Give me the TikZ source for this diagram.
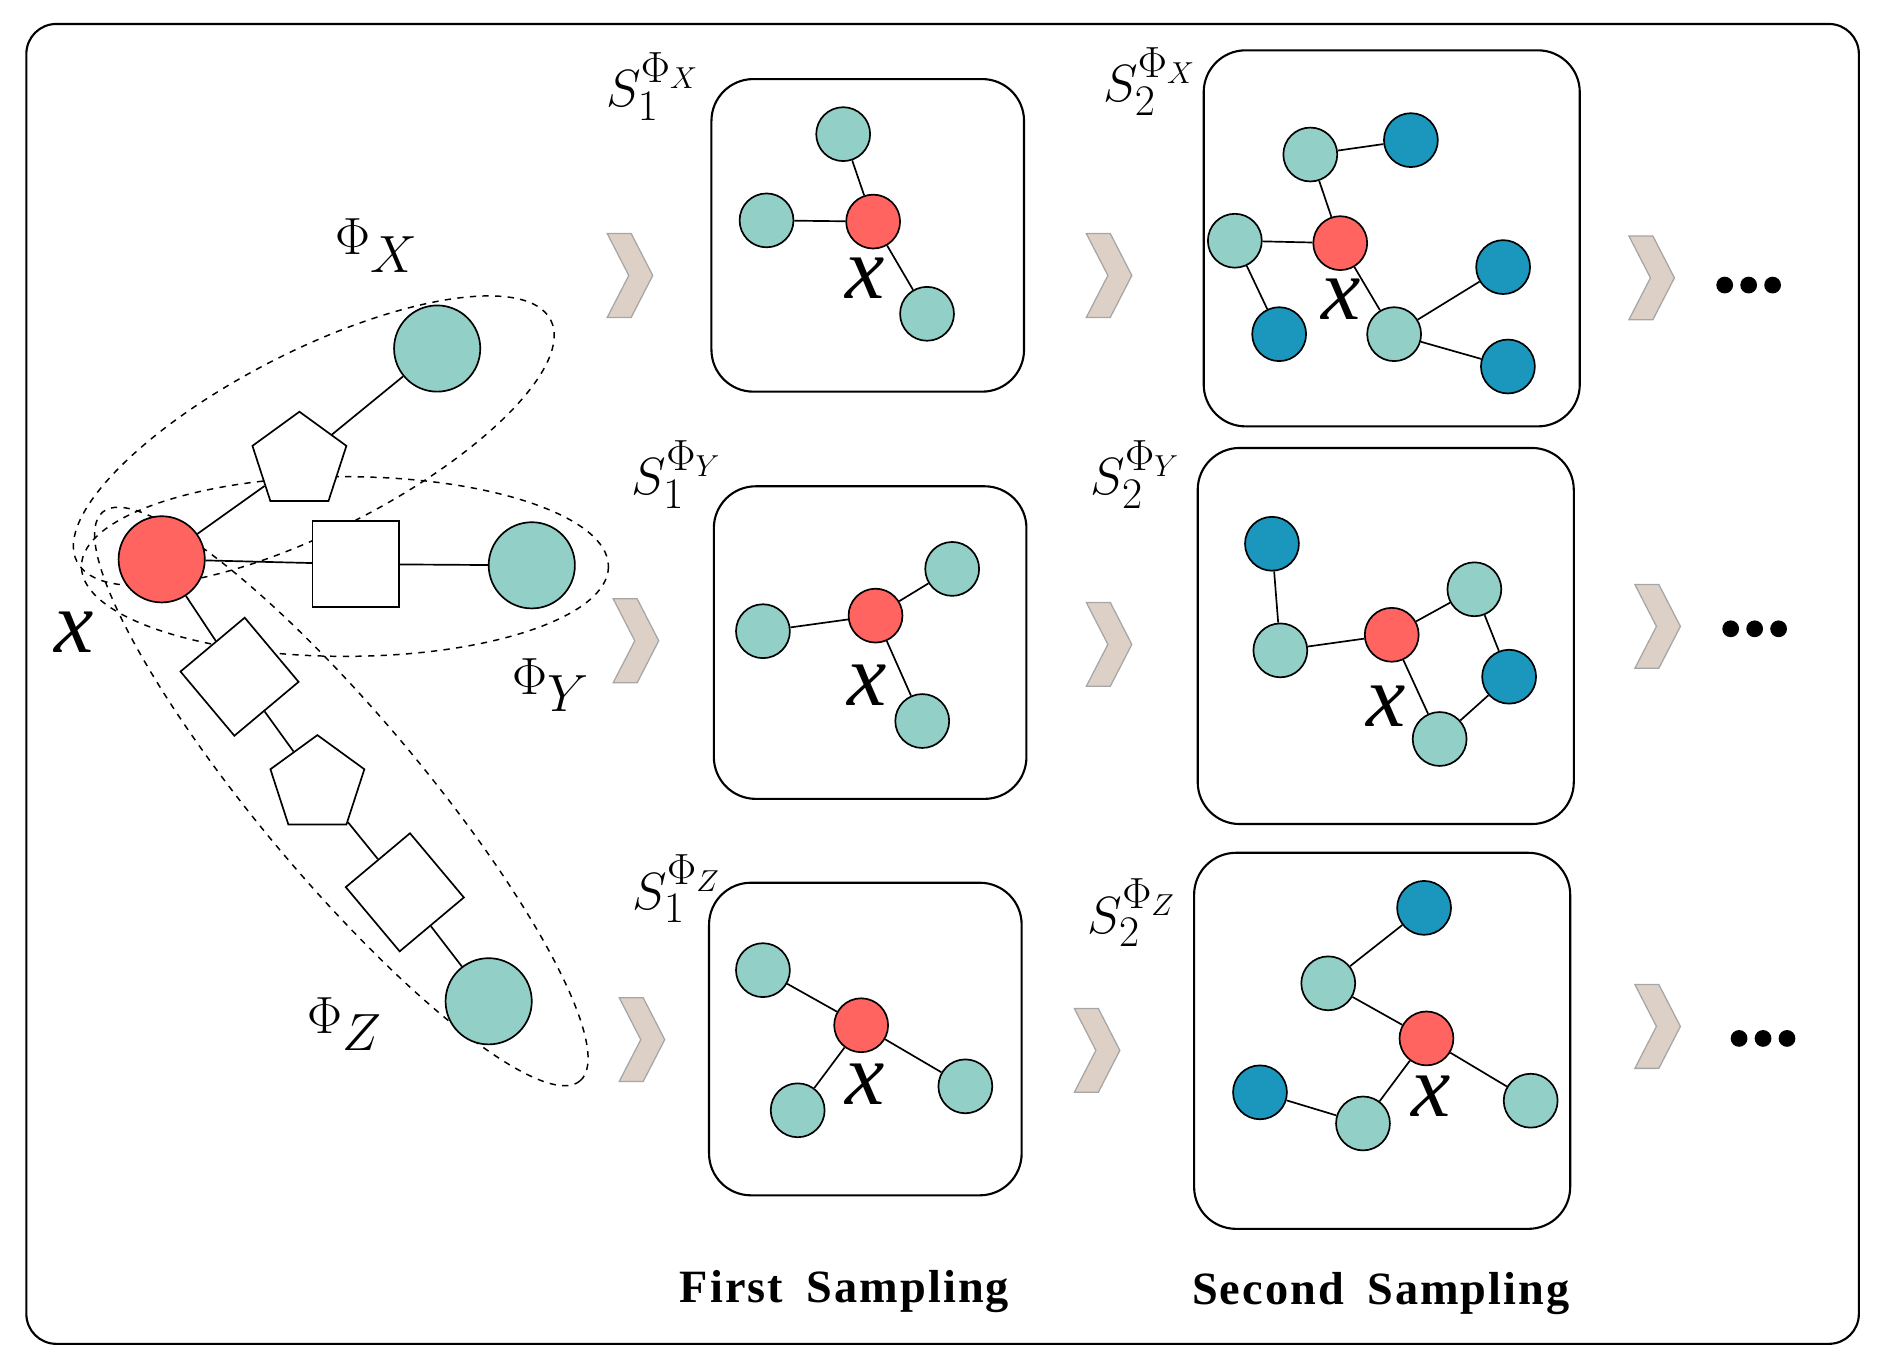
\documentclass[tikz,border=0pt]{standalone}
\usepackage{fontspec}
\setmainfont{Liberation Serif}
\usetikzlibrary{shapes.geometric}
\definecolor{teal}{HTML}{91CFC7}
\definecolor{redn}{HTML}{FF6461}
\definecolor{dark}{HTML}{1B96BC}
\definecolor{tan}{HTML}{DDD0C6}
\begin{document}
\begin{tikzpicture}[x=0.02cm,y=-0.02cm,line width=0.8pt,
 big/.style={circle,draw,minimum size=1.44cm,inner sep=0},
 sm/.style={circle,draw,minimum size=0.9cm,inner sep=0},
 T/.style={sm,fill=teal},R/.style={sm,fill=redn},D/.style={sm,fill=dark},
 box/.style={draw,rounded corners=0.7cm,line width=1pt},
 pent/.style={regular polygon,regular polygon sides=5,draw,fill=white,minimum size=1.65cm,inner sep=0},
 sq/.style={rectangle,draw,fill=white,minimum size=1.44cm,inner sep=0},
 dia/.style={rectangle,draw,fill=white,minimum size=1.4cm,inner sep=0,rotate=40},
 ell/.style={draw,dashed,line width=0.7pt},
 xl/.style={font=\fontsize{42}{42}\selectfont\itshape},
 sl/.style={font=\fontsize{30}{30}\selectfont},
 pl/.style={font=\fontsize{36}{36}\selectfont},
 chev/.pic={\draw[fill=tan,draw=gray!70,line width=0.6pt] (-18,-35)--(2,-35)--(20,0)--(2,35)--(-18,35)--(0,0)--cycle;},
 dots/.pic={\foreach \i in {-20,0,20}\fill (\i,0) circle (7);}]
\useasboundingbox (0,0) rectangle (1568,1140);
\draw[rounded corners=0.5cm,line width=1pt] (22,20) rectangle (1552,1122);
% ellipses
\draw[ell,rotate around={27:(262,368)}] (262,368) ellipse (222 and 75);
\draw[ell] (288,473) ellipse (220 and 75);
\draw[ell,rotate around={-50:(285,665)}] (285,665) ellipse (310 and 68);
% left graph
\node[big,fill=redn] (r) at (135,467) {};
\node[pent] (p1) at (250,385) {};
\node[big,fill=teal] (c1) at (365,291) {};
\node[sq] (s1) at (297,471) {};
\node[big,fill=teal] (c2) at (444,472) {};
\node[dia] (d1) at (200,565) {};
\node[pent] (p2) at (265,655) {};
\node[dia] (d2) at (338,745) {};
\node[big,fill=teal] (c3) at (408,836) {};
\draw (r)--(p1)--(c1); \draw (r)--(s1)--(c2);
\draw (r)--(d1)--(p2)--(d2)--(c3);
\node[xl] (lx) at (62,528) {x};
\node[pl] (phx) at (315,205) {$\Phi_{X}$};
\node[pl] (phy) at (460,572) {$\Phi_{Y}$};
\node[pl] (phz) at (288,855) {$\Phi_{Z}$};
% boxes
\draw[box] (594,66) rectangle (855,327);
\draw[box] (596,406) rectangle (857,667);
\draw[box] (592,737) rectangle (853,998);
\draw[box] (1005,42) rectangle (1319,356);
\draw[box] (1000,374) rectangle (1314,688);
\draw[box] (997,712) rectangle (1311,1026);
\node[sl] at (545,72) {$S_1^{\Phi_X}$};
\node[sl] at (960,68) {$S_2^{\Phi_X}$};
\node[sl] at (565,396) {$S_1^{\Phi_Y}$};
\node[sl] at (948,396) {$S_2^{\Phi_Y}$};
\node[sl] at (565,742) {$S_1^{\Phi_Z}$};
\node[sl] at (945,762) {$S_2^{\Phi_Z}$};
% box 1
\node[R] (a0) at (729,185) {}; \node[T] (a1) at (704,112) {}; \node[T] (a2) at (640,184) {}; \node[T] (a3) at (774,262) {};
\draw (a0)--(a1) (a0)--(a2) (a0)--(a3);
\node[xl] at (722,232) {x};
% box 2
\node[R] (b0) at (1119,203) {}; \node[T] (b1) at (1094,129) {}; \node[T] (b2) at (1031,201) {}; \node[T] (b3) at (1164,279) {};
\node[D] (b4) at (1178,117) {}; \node[D] (b5) at (1068,279) {}; \node[D] (b6) at (1255,223) {}; \node[D] (b7) at (1259,306) {};
\draw (b0)--(b1) (b0)--(b2) (b0)--(b3) (b1)--(b4) (b2)--(b5) (b3)--(b6) (b3)--(b7);
\node[xl] at (1120,250) {x};
% box 3
\node[R] (e0) at (731,514) {}; \node[T] (e1) at (795,475) {}; \node[T] (e2) at (637,527) {}; \node[T] (e3) at (770,602) {};
\draw (e0)--(e1) (e0)--(e2) (e0)--(e3);
\node[xl] at (724,572) {x};
% box 4
\node[R] (f0) at (1162,530) {}; \node[T] (f1) at (1069,543) {}; \node[T] (f2) at (1231,492) {}; \node[T] (f3) at (1202,617) {};
\node[D] (f4) at (1062,454) {}; \node[D] (f5) at (1260,565) {};
\draw (f4)--(f1)--(f0)--(f2)--(f5)--(f3)--(f0);
\node[xl] at (1157,590) {x};
% box 5
\node[R] (g0) at (719,856) {}; \node[T] (g1) at (637,810) {}; \node[T] (g2) at (666,927) {}; \node[T] (g3) at (806,907) {};
\draw (g0)--(g1) (g0)--(g2) (g0)--(g3);
\node[xl] at (722,905) {x};
% box 6
\node[R] (h0) at (1191,867) {}; \node[T] (h1) at (1109,821) {}; \node[T] (h2) at (1138,938) {}; \node[T] (h3) at (1278,919) {};
\node[D] (h4) at (1189,758) {}; \node[D] (h5) at (1052,912) {};
\draw (h4)--(h1)--(h0)--(h2)--(h5) (h0)--(h3);
\node[xl] at (1195,915) {x};
% chevrons and dots
\foreach \p in {(525,230),(530,535),(535,868),(925,230),(925,538),(915,877),(1378,232),(1383,523),(1383,857)} \pic at \p {chev};
\pic at (1460,238) {dots}; \pic at (1465,525) {dots}; \pic at (1472,867) {dots};
\node[font=\fontsize{22}{22}\selectfont\bfseries] (t1) at (705,1078) {F\kern1pt i\kern1pt r\kern1pt s\kern1pt t\ \ S\kern1pt a\kern1pt m\kern1pt p\kern1pt l\kern1pt i\kern1pt n\kern1pt g};
\node[font=\fontsize{22}{22}\selectfont\bfseries] (t2) at (1153,1080) {S\kern1pt e\kern1pt c\kern1pt o\kern1pt n\kern1pt d\ \ S\kern1pt a\kern1pt m\kern1pt p\kern1pt l\kern1pt i\kern1pt n\kern1pt g};
\end{tikzpicture}
\end{document}
